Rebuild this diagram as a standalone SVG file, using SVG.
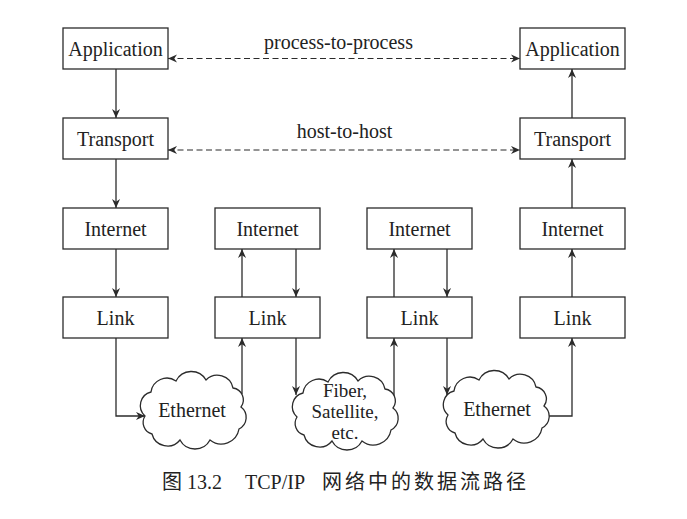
<svg xmlns="http://www.w3.org/2000/svg" width="687" height="519" viewBox="0 0 687 519">
<style>
  .box { fill: #ffffff; stroke: #2b2b2b; stroke-width: 1.3; }
  .cloud { fill: #ffffff; stroke: #2b2b2b; stroke-width: 1.3; }
  .lbl { font-family: 'Liberation Serif', 'DejaVu Serif', serif; font-size: 20px; fill: #222; text-anchor: middle; }
  .sm { font-size: 19px; }
  .wire { fill: none; stroke: #2b2b2b; stroke-width: 1.3; marker-end: url(#arr); }
  .dash { fill: none; stroke: #2b2b2b; stroke-width: 1.2; stroke-dasharray: 6 3.5; marker-start: url(#arr); marker-end: url(#arr); }
  .cap { font-family: 'Liberation Serif', 'DejaVu Serif', serif; font-size: 20px; fill: #222; }
  .capcjk { font-family: 'Noto Sans CJK SC', sans-serif; font-size: 20px; fill: #222; letter-spacing: 3px; }
</style>
<defs>
  <marker id="arr" viewBox="0 0 10 10" refX="10" refY="5" markerWidth="9" markerHeight="9" markerUnits="userSpaceOnUse" orient="auto-start-reverse">
    <path d="M0,0.5 L10,5 L0,9.5 L3,5 Z" fill="#2b2b2b" stroke="none"/>
  </marker>
  <path id="cloudshape" d="M7,44 A14,14 0 0 1 13,20 A16,16 0 0 1 38,9 A17,17 0 0 1 68,8 A16,16 0 0 1 95,16 A12,12 0 0 1 103,35 A13,13 0 0 1 101,57 A18,18 0 0 1 72,68 A17,17 0 0 1 42,68 A16,16 0 0 1 14,62 A12,12 0 0 1 7,44 Z"/>
</defs>
<rect width="687" height="519" fill="#ffffff"/>

<g id="connectors">
  <path class="wire" d="M116,69 V118"/>
  <path class="wire" d="M116,159 V208"/>
  <path class="wire" d="M116,249 V297"/>
  <path class="wire" d="M116,338 V416 H145"/>
  <path class="wire" d="M242,394 V338"/>
  <path class="wire" d="M242,297 V249"/>
  <path class="wire" d="M296,249 V297"/>
  <path class="wire" d="M296,338 V395"/>
  <path class="wire" d="M394,396 V338"/>
  <path class="wire" d="M394,297 V249"/>
  <path class="wire" d="M447,249 V297"/>
  <path class="wire" d="M447,338 V395"/>
  <path class="wire" d="M549,416 H572 V338"/>
  <path class="wire" d="M572,297 V249"/>
  <path class="wire" d="M572,208 V159"/>
  <path class="wire" d="M572,118 V69"/>
  <path class="dash" d="M168,58.5 H520"/>
  <path class="dash" d="M168,150 H520"/>
  <text class="lbl" x="338.5" y="49">process-to-process</text>
  <text class="lbl" x="344.5" y="138">host-to-host</text>
</g>

<g id="app1"><rect class="box" x="63" y="28" width="105" height="41"/><text class="lbl" x="115.5" y="55.5">Application</text></g>
<g id="transport1"><rect class="box" x="63" y="118" width="105" height="41"/><text class="lbl" x="115.5" y="145.5">Transport</text></g>
<g id="internet1"><rect class="box" x="63" y="208" width="105" height="41"/><text class="lbl" x="115.5" y="235.5">Internet</text></g>
<g id="link1"><rect class="box" x="63" y="297" width="105" height="41"/><text class="lbl" x="115.5" y="324.5">Link</text></g>

<g id="internet2"><rect class="box" x="215" y="208" width="105" height="41"/><text class="lbl" x="267.5" y="235.5">Internet</text></g>
<g id="link2"><rect class="box" x="215" y="297" width="105" height="41"/><text class="lbl" x="267.5" y="324.5">Link</text></g>

<g id="internet3"><rect class="box" x="367" y="208" width="105" height="41"/><text class="lbl" x="419.5" y="235.5">Internet</text></g>
<g id="link3"><rect class="box" x="367" y="297" width="105" height="41"/><text class="lbl" x="419.5" y="324.5">Link</text></g>

<g id="app4"><rect class="box" x="520" y="28" width="105" height="41"/><text class="lbl" x="572.5" y="55.5">Application</text></g>
<g id="transport4"><rect class="box" x="520" y="118" width="105" height="41"/><text class="lbl" x="572.5" y="145.5">Transport</text></g>
<g id="internet4"><rect class="box" x="520" y="208" width="105" height="41"/><text class="lbl" x="572.5" y="235.5">Internet</text></g>
<g id="link4"><rect class="box" x="520" y="297" width="105" height="41"/><text class="lbl" x="572.5" y="324.5">Link</text></g>

<g id="cloud1"><use href="#cloudshape" class="cloud" transform="translate(138,372)"/><text class="lbl" x="192" y="417">Ethernet</text></g>
<g id="cloud2"><use href="#cloudshape" class="cloud" transform="translate(290,373)"/>
  <text class="lbl sm" x="345" y="397">Fiber,</text>
  <text class="lbl sm" x="345" y="418">Satellite,</text>
  <text class="lbl sm" x="345" y="439">etc.</text>
</g>
<g id="cloud3"><use href="#cloudshape" class="cloud" transform="translate(441,371)"/><text class="lbl" x="497" y="416">Ethernet</text></g>

<g id="caption">
  <text class="capcjk" x="162" y="489">图</text>
  <text class="cap" x="187" y="489">13.2</text>
  <text class="cap" x="245" y="489">TCP/IP</text>
  <text class="capcjk" x="322" y="489">网络中的数据流路径</text>
</g>
</svg>
